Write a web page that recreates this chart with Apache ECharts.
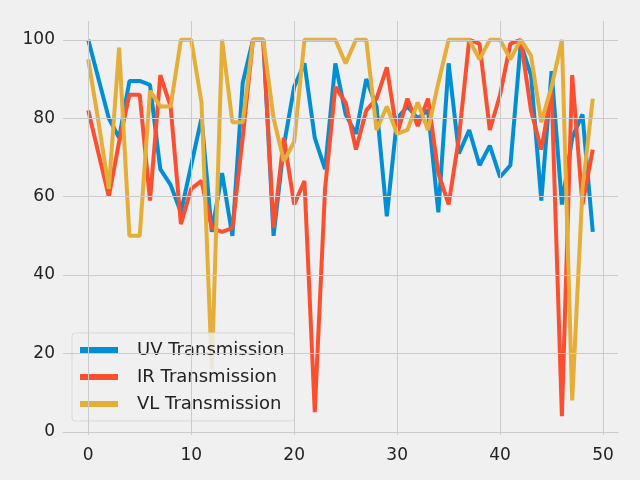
<!DOCTYPE html>
<html>
<head>
<meta charset="utf-8">
<script src="https://cdn.jsdelivr.net/npm/echarts@6/dist/echarts.min.js"></script>
<style>html,body{margin:0;background:#f0f0f0}#main{width:640px;height:480px}</style>
</head>
<body>
<div id="main"></div>
<script>
// values, index 0..49
const uv = [100, 90, 80, 75, 89.5, 89.5, 88.5, 67, 63, 56, 68, 80, 51, 66, 50, 89, 100, 100, 50, 73,
  88, 94, 75, 67, 94, 81, 76, 90, 83, 55, 80, 83, 80, 82, 56, 94, 71, 77, 68, 73,
  65, 68, 99, 91, 59, 92, 58, 75, 81, 51];
const ir = [82, 71, 60, 74, 86, 86, 59, 91, 83, 53, 62, 64, 52, 51, 52, 75, 100, 100, 52, 75,
  58, 64, 5, 62, 88, 84, 72, 82, 85, 93, 76, 85, 78, 85, 66, 58, 75, 100, 99, 77,
  86, 99, 100, 82, 72, 87, 4, 91, 58, 72];
const vl = [95, 79, 62, 98, 50, 50, 87, 83, 83, 100, 100, 84, 16, 100, 79, 79, 100, 100, 80, 69,
  74, 100, 100, 100, 100, 94, 100, 100, 77, 83, 76, 77, 84, 77, 89, 100, 100, 100, 95, 100,
  100, 95, 100, 96, 79, 88, 100, 8, 62, 85];
const xTicks = [0, 10, 20, 30, 40, 50];
const yTicks = [0, 20, 40, 60, 80, 100];
const names = ['UV Transmission', 'IR Transmission', 'VL Transmission'];
const colors = ['#008fd5', '#fc4f30', '#e5ae38'];

const chart = echarts.init(document.getElementById('main'));
const toPts = arr => arr.map((v, i) => [i, v]);
const font = 'DejaVu Sans';

chart.setOption({
  backgroundColor: '#f0f0f0',
  animation: false,
  grid: { left: 63, right: 22, top: 21, bottom: 45 },
  xAxis: {
    type: 'value', min: -2.45, max: 51.45,
    axisLine: { show: true, lineStyle: { color: '#cbcbcb' } },
    axisTick: { show: false },
    splitLine: { show: false },
    axisLabel: { customValues: xTicks, color: '#222', fontSize: 17, fontFamily: font, margin: 12 }
  },
  yAxis: {
    type: 'value', min: -0.8, max: 104.8,
    axisLine: { show: false },
    axisTick: { show: false },
    splitLine: { show: false },
    axisLabel: { customValues: yTicks, color: '#222', fontSize: 17, fontFamily: font, margin: 8 }
  },
  legend: {
    orient: 'vertical', left: 72, top: 333,
    backgroundColor: 'rgba(240,240,240,0.85)', borderColor: '#d8d8d8', borderWidth: 1, borderRadius: 3,
    padding: [8, 10, 8, 8], itemGap: 9, itemWidth: 38, itemHeight: 6,
    icon: 'rect',
    textStyle: { fontSize: 18, fontFamily: font, color: '#222', padding: [0, 0, 0, 14] },
    data: names
  },
  series: [
    // grid lines drawn as markLines so they sit beneath the data
    {
      type: 'line', data: [], silent: true,
      markLine: {
        symbol: 'none', silent: true, label: { show: false },
        lineStyle: { color: '#cbcbcb', type: 'solid', width: 1 },
        data: xTicks.map(v => ({ xAxis: v })).concat(yTicks.map(v => ({ yAxis: v })))
      }
    }
  ].concat([uv, ir, vl].map((arr, k) => ({
    name: names[k], type: 'line', data: toPts(arr), showSymbol: false,
    lineStyle: { width: 4, color: colors[k] }, itemStyle: { color: colors[k] }
  })))
});
</script>
</body>
</html>
